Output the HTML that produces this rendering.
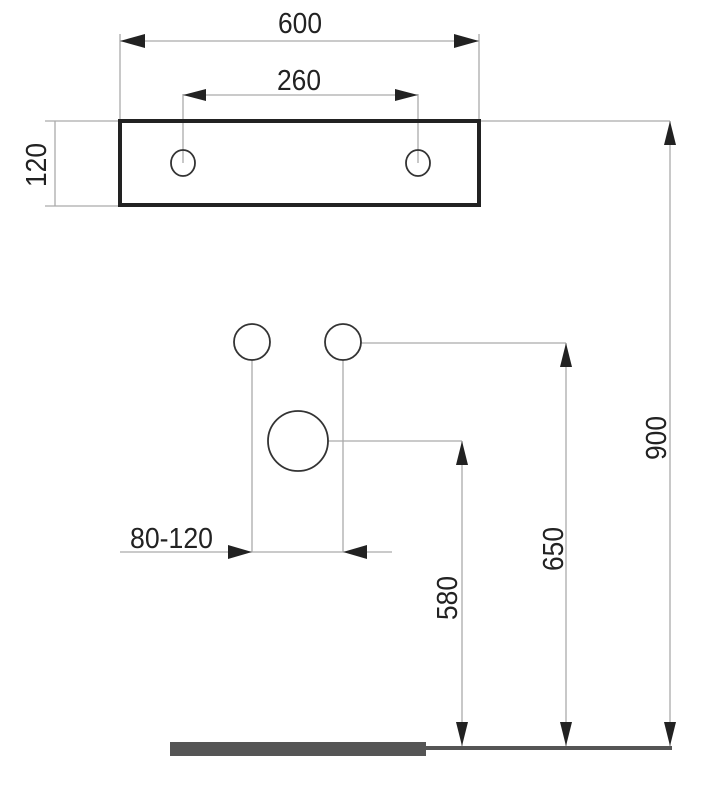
<!DOCTYPE html>
<html><head><style>html,body{margin:0;padding:0;background:#fff}</style></head>
<body>
<svg width="703" height="783" viewBox="0 0 703 783" xmlns="http://www.w3.org/2000/svg">
<defs>
<style>text{font-family:"Liberation Sans",sans-serif;font-size:29px;fill:#222}</style>
</defs>
<g stroke="#aaa" stroke-width="1.3" fill="none">
<line x1="120" y1="34" x2="120" y2="120"/><line x1="479" y1="34" x2="479" y2="120"/>
<line x1="120" y1="41" x2="479" y2="41"/>
<line x1="183" y1="94" x2="183" y2="163"/><line x1="418" y1="94" x2="418" y2="163"/>
<line x1="183" y1="95" x2="418" y2="95"/>
<line x1="45" y1="121" x2="119" y2="121"/><line x1="45" y1="206" x2="119" y2="206"/>
<line x1="55" y1="121" x2="55" y2="206"/>
<line x1="480" y1="121" x2="670" y2="121"/><line x1="670" y1="121" x2="670" y2="748"/>
<line x1="361" y1="343" x2="566" y2="343"/><line x1="566" y1="343" x2="566" y2="748"/>
<line x1="328" y1="441" x2="462" y2="441"/><line x1="462" y1="441" x2="462" y2="748"/>
<line x1="252" y1="360" x2="252" y2="552"/><line x1="343" y1="360" x2="343" y2="552"/>
<line x1="120" y1="552" x2="392" y2="552"/>
</g>
<g fill="#222">
<polygon points="120,41 145,34 145,48"/><polygon points="479,41 454,34 454,48"/>
<polygon points="183,95 206,89 206,101"/><polygon points="418,95 395,89 395,101"/>
<polygon points="670,121 664,145 676,145"/><polygon points="670,746 664,722 676,722"/>
<polygon points="566,343 560,367 572,367"/><polygon points="566,746 560,722 572,722"/>
<polygon points="462,441 456,465 468,465"/><polygon points="462,746 456,722 468,722"/>
<polygon points="252,552 228,545 228,559"/><polygon points="343,552 367,545 367,559"/>
</g>
<rect x="120" y="121" width="359" height="84" fill="none" stroke="#222" stroke-width="4"/>
<g fill="none" stroke="#333" stroke-width="1.8">
<ellipse cx="183" cy="163" rx="12" ry="13"/><ellipse cx="418" cy="163" rx="12" ry="13"/>
<circle cx="252" cy="342" r="18"/><circle cx="343" cy="342" r="18"/>
<circle cx="298" cy="441" r="30"/>
</g>
<rect x="170" y="742" width="256" height="14" fill="#555"/>
<rect x="426" y="746" width="246" height="4" fill="#555"/>
<text x="278" y="33" textLength="44" lengthAdjust="spacingAndGlyphs">600</text>
<text x="277" y="90" textLength="44" lengthAdjust="spacingAndGlyphs">260</text>
<text x="130" y="548" textLength="83" lengthAdjust="spacingAndGlyphs">80-120</text>
<text transform="translate(46,187) rotate(-90)" textLength="44" lengthAdjust="spacingAndGlyphs">120</text>
<text transform="translate(666,460) rotate(-90)" textLength="44" lengthAdjust="spacingAndGlyphs">900</text>
<text transform="translate(563,571) rotate(-90)" textLength="44" lengthAdjust="spacingAndGlyphs">650</text>
<text transform="translate(457,620) rotate(-90)" textLength="44" lengthAdjust="spacingAndGlyphs">580</text>
</svg>
</body></html>
